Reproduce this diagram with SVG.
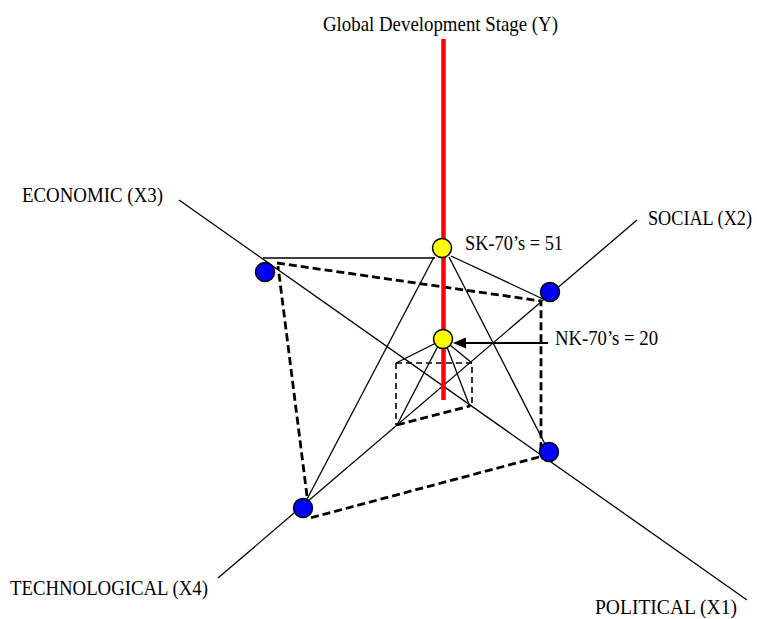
<svg xmlns="http://www.w3.org/2000/svg" width="757" height="619" viewBox="0 0 757 619">
<style>
text{font-family:"Liberation Serif","Times New Roman",serif;font-size:21px;fill:#000}
.thin{stroke:#000;stroke-width:1.3;fill:none}
.dash{stroke:#000;stroke-width:2.8;fill:none;stroke-dasharray:8 4}
.sdash{stroke:#000;stroke-width:1.6;fill:none;stroke-dasharray:6 4}
.blue{fill:#0000FF;stroke:#000;stroke-width:1.5}
.yellow{fill:#FFFF00;stroke:#000;stroke-width:1.5}
</style>
<rect width="757" height="619" fill="#fff"/>
<g id="connectors">
  <line class="thin" x1="179" y1="200" x2="747" y2="600"/>
  <line class="thin" x1="637" y1="220" x2="218" y2="578"/>
  <line class="thin" x1="263" y1="258" x2="435" y2="258"/>
  <line class="thin" x1="451" y1="256" x2="543" y2="299"/>
  <line class="thin" x1="449" y1="257" x2="546" y2="446"/>
  <line class="thin" x1="434" y1="257" x2="305" y2="503"/>
  <line class="thin" x1="436" y1="343" x2="396" y2="363"/>
  <line class="thin" x1="438" y1="346" x2="397" y2="425"/>
  <line class="thin" x1="450" y1="345" x2="472" y2="363"/>
  <line class="thin" x1="447" y1="347" x2="470" y2="407"/>
  <path class="dash" d="M277,263 L541,301 L541,452 M539,457 L310,518 M307,496 L278,266"/>
  <path class="sdash" d="M396,363 L472,363 L472,407 M396,363 L396,425"/>
  <line class="dash" x1="397" y1="425" x2="470" y2="406"/>
  <line stroke="#000" stroke-width="1.8" x1="548" y1="343" x2="464" y2="343"/>
  <polygon points="453,343 466,337.5 466,348.5" fill="#000"/>
  <line stroke="#FF0000" stroke-width="4.5" x1="443.5" y1="39" x2="443.5" y2="400"/>
</g>
<g id="node-econ"><circle class="blue" cx="265" cy="272" r="9.5"/></g>
<g id="node-social"><circle class="blue" cx="550" cy="292" r="9.5"/></g>
<g id="node-political"><circle class="blue" cx="549" cy="452" r="9.5"/></g>
<g id="node-tech"><circle class="blue" cx="303" cy="508" r="9.5"/></g>
<g id="node-sk"><circle class="yellow" cx="442" cy="248" r="9.5"/></g>
<g id="node-nk"><circle class="yellow" cx="443" cy="339" r="9.5"/></g>
<g id="labels">
  <text x="323" y="31" textLength="235" lengthAdjust="spacingAndGlyphs">Global Development Stage (Y)</text>
  <text x="22" y="202" textLength="141" lengthAdjust="spacingAndGlyphs">ECONOMIC (X3)</text>
  <text transform="translate(648,225) scale(1,1.15)" x="0" y="0" style="font-size:18px" textLength="104" lengthAdjust="spacingAndGlyphs">SOCIAL (X2)</text>
  <text x="465" y="250" textLength="98" lengthAdjust="spacingAndGlyphs">SK-70’s = 51</text>
  <text x="555" y="345" textLength="103" lengthAdjust="spacingAndGlyphs">NK-70’s = 20</text>
  <text x="595" y="614" textLength="142" lengthAdjust="spacingAndGlyphs">POLITICAL (X1)</text>
  <text x="10" y="595" textLength="198" lengthAdjust="spacingAndGlyphs">TECHNOLOGICAL (X4)</text>
</g>
</svg>
